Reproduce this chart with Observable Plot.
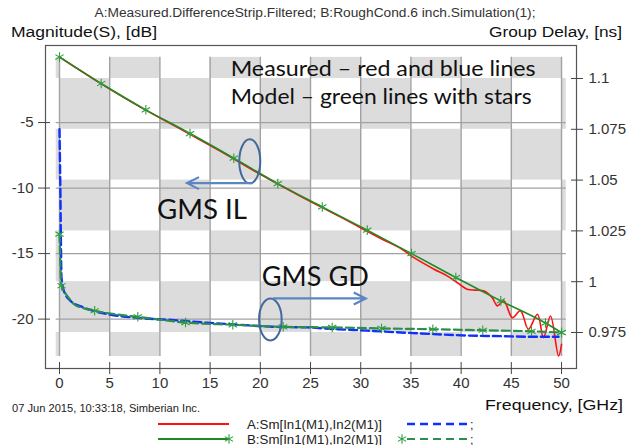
<!DOCTYPE html>
<html><head><meta charset="utf-8">
<script src="https://cdn.jsdelivr.net/npm/d3@7"></script>
<script src="https://cdn.jsdelivr.net/npm/@observablehq/plot@0.6"></script>
<style>body{margin:0;background:#fff} svg{display:block}</style>
</head><body><div id="chart"></div>
<script>
// ---- tick labels ----
const xTicks = [0, 5, 10, 15, 20, 25, 30, 35, 40, 45, 50];
const leftTicks = [-5, -10, -15, -20];
const rightTicks = [1.1, 1.075, 1.05, 1.025, 1, 0.975];
const rightLabels = ["1.1", "1.075", "1.05", "1.025", "1", "0.975"];

// ---- Insertion loss, dB ----
const ilModelF  = [0, 4.15, 8.6, 13.0, 17.36, 21.74, 26.17, 30.65, 35.06, 39.47, 43.95, 48.4, 50];
const ilModelDb = [0.0, -2.02, -4.03, -5.84, -7.72, -9.66, -11.44, -13.21, -15.0, -16.83, -18.61, -20.3, -21.03];

const ilMeasF  = [0, 4, 8, 12, 16, 20, 24, 28, 32, 34, 35.3, 37.3, 38.6, 39.6, 40.6, 41.4, 42.3, 43.1, 43.6, 44.25, 45.1, 45.9, 46.7, 47.6, 48.2, 48.9, 49.7, 50.0];
const ilMeasDb = [0, -1.97, -3.8, -5.47, -7.18, -8.95, -10.63, -12.22, -13.85, -14.62, -15.31, -16.19, -16.7, -17.21, -17.72, -17.79, -17.85, -18.36, -18.99, -18.61, -19.89, -19.37, -20.77, -19.63, -21.41, -19.76, -22.81, -21.92];

// ---- Group delay, ns ----
const gdMeasF  = [0, 0.05, 0.1, 0.15, 0.2, 0.43, 1.1, 2.4, 4.75, 8.07, 11.4, 14.7, 18.0, 21.3, 24.7, 27.3, 30.65, 33.97, 37.3, 40.6, 43.9, 47.25, 49.7];
const gdMeasNs = [1.0751, 1.058, 1.0398, 1.0152, 1.0021, 0.9955, 0.9906, 0.9873, 0.9841, 0.9821, 0.9811, 0.9798, 0.9788, 0.9778, 0.9775, 0.9767, 0.9759, 0.975, 0.9742, 0.9735, 0.9732, 0.9729, 0.9729];

const gdModelF  = [0, 0.2, 0.45, 1.0, 1.45, 2.4, 3.5, 5.5, 7.8, 12.55, 17.26, 22.28, 27.16, 32.07, 37.18, 42.16, 47.01, 50];
const gdModelNs = [1.0234, 0.998, 0.9955, 0.9915, 0.9889, 0.987, 0.9857, 0.984, 0.9827, 0.9799, 0.9788, 0.9778, 0.9775, 0.977, 0.9766, 0.9761, 0.9756, 0.975];
const gdStarF  = [0, 0.2, 3.5, 7.8, 12.55, 17.26, 22.28, 27.16, 32.07, 37.18, 42.16, 47.01, 50];
const gdStarNs = [1.0234, 0.998, 0.9857, 0.9827, 0.9799, 0.9788, 0.9778, 0.9775, 0.977, 0.9766, 0.9761, 0.9756, 0.975];

// ---- layout / scales ----
const xDomain = [-1.394, 51.49];
const yDomain = [-23.77, 0.88];        // left axis, dB
const nsDomain = [0.95728, 1.11624];   // right axis, ns (same pixel range)
const conv = ns => yDomain[0] + (ns - nsDomain[0]) / (nsDomain[1] - nsDomain[0]) * (yDomain[1] - yDomain[0]);

const checkX = [-0.33, ...xTicks, 50.47];
const checkNs = [1.1104, ...rightTicks, 0.9632];
const cells = [];
for (let i = 0; i < checkX.length - 1; i++) {
  for (let j = 0; j < checkNs.length - 1; j++) {
    const c = i - 1, r = j;
    if ((((c + r) % 2) + 2) % 2 === 1) cells.push({x1: checkX[i], x2: checkX[i + 1], y1: conv(checkNs[j]), y2: conv(checkNs[j + 1])});
  }
}

const zip = (a, b) => a.map((v, i) => ({f: v, v: b[i]}));
const ilModel = zip(ilModelF, ilModelDb);
const ilMeas = zip(ilMeasF, ilMeasDb);
const gdMeas = zip(gdMeasF, gdMeasNs.map(conv));
const gdModel = zip(gdModelF, gdModelNs.map(conv));
const gdStars = zip(gdStarF, gdStarNs.map(conv));
const rightTicksDb = rightTicks.map(conv);

const RED = "#ff1010", GREEN = "#1f8a22", GREEN2 = "#2a8f4a", STAR = "#2e9e3e", BLUE = "#1030ff";

const plot = Plot.plot({
  width: 628, height: 445,
  marginLeft: 45, marginRight: 52, marginTop: 45, marginBottom: 77,
  x: {domain: xDomain},
  y: {domain: yDomain},
  style: {fontFamily: "Liberation Sans, Arial, sans-serif", fontSize: "15px", color: "#333", background: "#fff"},
  marks: [
    Plot.rect(cells, {x1: "x1", x2: "x2", y1: "y1", y2: "y2", fill: "#dcdcdc"}),
    Plot.ruleX(xTicks, {y1: conv(0.9632), y2: conv(1.1104), stroke: "#a2a2a2", strokeWidth: 1.4}),
    Plot.ruleY(leftTicks, {x1: -0.33, x2: 50.47, stroke: "#a2a2a2", strokeWidth: 1.2}),
    Plot.frame({stroke: "#555", strokeWidth: 1.2}),
    Plot.line(ilMeas, {x: "f", y: "v", stroke: RED, strokeWidth: 1.6, curve: "catmull-rom"}),
    Plot.line(ilModel, {x: "f", y: "v", stroke: GREEN, strokeWidth: 1.6, curve: "monotone-x"}),
    Plot.dot(ilModel, {x: "f", y: "v", symbol: "asterisk", r: 4.5, stroke: STAR, strokeWidth: 1.1}),
    Plot.line(gdMeas, {x: "f", y: "v", stroke: BLUE, strokeWidth: 2.4, strokeDasharray: "8,4", curve: "monotone-x"}),
    Plot.line(gdModel, {x: "f", y: "v", stroke: GREEN2, strokeWidth: 2.2, strokeDasharray: "8,4", curve: "monotone-x"}),
    Plot.dot(gdStars, {x: "f", y: "v", symbol: "asterisk", r: 4.5, stroke: STAR, strokeWidth: 1.1}),
    Plot.axisX(xTicks, {anchor: "bottom", tickSize: 12, dy: -6, tickPadding: 3, tickFormat: d => String(d), label: null, stroke: "#444"}),
    Plot.axisY(leftTicks, {anchor: "left", tickSize: 12, dx: 5, tickPadding: 5, tickFormat: d => String(d), label: null, stroke: "#444"}),
    Plot.axisY(rightTicksDb, {anchor: "right", tickSize: 12, dx: -6, tickPadding: 6, tickFormat: d => rightLabels[rightTicksDb.indexOf(d)], label: null, stroke: "#444"})
  ]
});
document.getElementById("chart").appendChild(plot);

// ---- annotations & surrounding text ----
const svg = d3.select(plot);
const X = v => plot.scale("x").apply(v), Y = v => plot.scale("y").apply(v);
const txt = (x, y, s, o = {}) => {
  const t = svg.append("text").attr("x", x).attr("y", y).text(s)
    .attr("font-family", o.family || "Liberation Sans, Arial, sans-serif")
    .attr("font-size", o.size || 12).attr("fill", o.fill || "#222")
    .attr("text-anchor", o.anchor || "start");
  if (o.len) t.attr("textLength", o.len).attr("lengthAdjust", "spacingAndGlyphs");
  if (o.weight) t.attr("font-weight", o.weight);
  return t;
};
txt(315, 17, "A:Measured.DifferenceStrip.Filtered; B:RoughCond.6 inch.Simulation(1);", {size: 12, anchor: "middle", len: 441, fill: "#333"});
txt(11, 37, "Magnitude(S), [dB]", {size: 15.5, len: 146, fill: "#111"});
txt(622, 37, "Group Delay, [ns]", {size: 15.5, len: 133, anchor: "end", fill: "#111"});
txt(623, 410, "Frequency, [GHz]", {size: 15.5, len: 138, anchor: "end", fill: "#111"});
txt(12, 412, "07 Jun 2015, 10:33:18, Simberian Inc.", {size: 10.5, len: 188, fill: "#222"});

// in-plot notes
const NOTE = "#111";
txt(X(17.1), Y(-1.51), "Measured – red and blue lines", {family: "Lato, sans-serif", size: 21, len: 305, fill: NOTE});
txt(X(17.1), Y(-3.65), "Model – green lines with stars", {family: "Lato, sans-serif", size: 21, len: 301, fill: NOTE});
txt(X(9.76), Y(-12.37), "GMS IL", {family: "Lato, sans-serif", size: 26, len: 90, fill: NOTE});
txt(X(20.2), Y(-17.5), "GMS GD", {family: "Lato, sans-serif", size: 26, len: 107, fill: NOTE});

const ELL = "#41699c", ARR = "#5a86c2";
svg.append("ellipse").attr("cx", X(19.0)).attr("cy", Y(-8.0)).attr("rx", 10.5).attr("ry", 22)
  .attr("fill", "none").attr("stroke", ELL).attr("stroke-width", 2);
svg.append("ellipse").attr("cx", X(21.05)).attr("cy", Y(-20.06)).attr("rx", 11.3).attr("ry", 21)
  .attr("fill", "none").attr("stroke", ELL).attr("stroke-width", 2);
const arrow = (x1, x2, y, dir) => {
  const px1 = X(x1), px2 = X(x2), py = Y(y);
  svg.append("path").attr("d", `M${px1},${py}H${px2}M${px2 - dir * 12},${py - 6}L${px2},${py}L${px2 - dir * 12},${py + 6}`)
    .attr("fill", "none").attr("stroke", ARR).attr("stroke-width", 2.2);
};
arrow(19.3, 12.75, -9.66, -1);
arrow(21.3, 30.55, -18.46, 1);

// legend
const star = d3.symbol(d3.symbolAsterisk, Math.PI * 4.5 * 4.5);
const L = svg.append("g");
L.append("line").attr("x1", 158).attr("x2", 229).attr("y1", 424).attr("y2", 424).attr("stroke", RED).attr("stroke-width", 2);
txt(247, 428.5, "A:Sm[In1(M1),In2(M1)]", {size: 12.5, len: 135, fill: "#222"});
L.append("line").attr("x1", 407).attr("x2", 468).attr("y1", 424).attr("y2", 424).attr("stroke", BLUE).attr("stroke-width", 2.4).attr("stroke-dasharray", "8,5");
txt(470, 428.5, ";", {size: 12.5, fill: "#222"});
L.append("line").attr("x1", 158).attr("x2", 229).attr("y1", 439).attr("y2", 439).attr("stroke", GREEN).attr("stroke-width", 2);
L.append("path").attr("d", star()).attr("transform", "translate(229,439)").attr("fill", "none").attr("stroke", STAR).attr("stroke-width", 1.1);
txt(247, 443.5, "B:Sm[In1(M1),In2(M1)]", {size: 12.5, len: 135, fill: "#222"});
L.append("line").attr("x1", 407).attr("x2", 468).attr("y1", 439).attr("y2", 439).attr("stroke", GREEN2).attr("stroke-width", 2.2).attr("stroke-dasharray", "8,5");
L.append("path").attr("d", star()).attr("transform", "translate(402,439)").attr("fill", "none").attr("stroke", STAR).attr("stroke-width", 1.1);
txt(470, 443.5, ";", {size: 12.5, fill: "#222"});
</script>
</body></html>
